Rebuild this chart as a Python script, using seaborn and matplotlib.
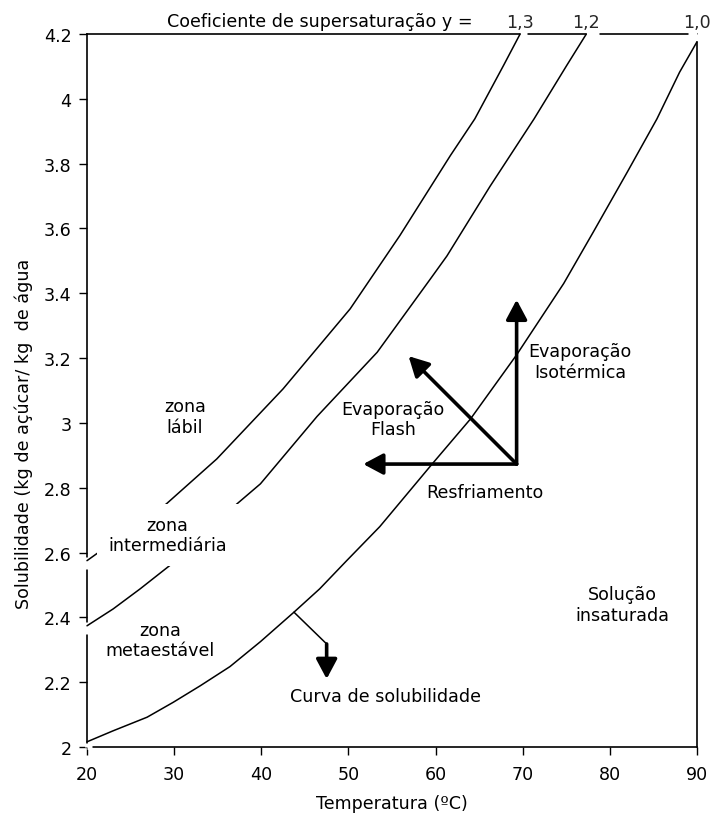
import numpy as np
import pandas as pd
import seaborn as sns
import matplotlib.pyplot as plt

# Solubility curve (y = 1,0) and supersaturation curves (y = 1,2 and y = 1,3)
temp_10 = [20, 23.0, 26.9, 29.9, 33.0, 36.4, 39.9, 43.75, 46.7, 49.8, 53.6, 59.6,
           64.0, 69.3, 74.7, 78.1, 82.0, 85.4, 88.0, 90.0]
sol_10 = [2.016, 2.050, 2.092, 2.138, 2.189, 2.248, 2.325, 2.416, 2.488, 2.575, 2.680,
          2.873, 3.012, 3.210, 3.430, 3.589, 3.774, 3.938, 4.082, 4.176]

temp_12 = [20, 23.0, 26.1, 29.5, 37.2, 39.9, 46.4, 53.3, 59.4, 61.3, 66.25, 71.3, 75.05, 77.3]
sol_12 = [2.374, 2.426, 2.488, 2.560, 2.750, 2.812, 3.020, 3.218, 3.444, 3.515, 3.730,
          3.938, 4.103, 4.200]

temp_13 = [20, 21.3, 29.1, 34.9, 42.5, 50.2, 55.9, 61.7, 64.5, 67.8, 69.7]
sol_13 = [2.575, 2.600, 2.750, 2.889, 3.105, 3.352, 3.578, 3.825, 3.938, 4.103, 4.200]

curve_labels = ["1,0", "1,2", "1,3"]

# Process arrows: starting state and the end of each path
arrow_origin = (69.3, 2.873)
arrow_cooling = (51.7, 2.873)
arrow_isothermal = (69.3, 3.38)
arrow_flash = (56.9, 3.206)

# Pointer to the solubility curve
pointer_temp = [43.75, 47.5]
pointer_sol = [2.416, 2.318]
pointer_tip = 2.21

x_ticks = [20, 30, 40, 50, 60, 70, 80, 90]
y_ticks = [2.0, 2.2, 2.4, 2.6, 2.8, 3.0, 3.2, 3.4, 3.6, 3.8, 4.0, 4.2]
y_ticklabels = ["2", "2.2", "2.4", "2.6", "2.8", "3", "3.2", "3.4", "3.6", "3.8", "4", "4.2"]

sns.set_theme(style="ticks")
plt.rcParams["font.family"] = ["DejaVu Sans"]
FS = 12.6

fig = plt.figure(figsize=(7.14, 8.2), dpi=100)
ax = fig.add_axes([87 / 714, 72 / 820, 610 / 714, 713 / 820])

curves = pd.concat([
    pd.DataFrame({"T": temp_10, "S": sol_10, "y": "1,0"}),
    pd.DataFrame({"T": temp_12, "S": sol_12, "y": "1,2"}),
    pd.DataFrame({"T": temp_13, "S": sol_13, "y": "1,3"}),
])
for name, grp in curves.groupby("y"):
    sns.lineplot(data=grp, x="T", y="S", ax=ax, color="black", lw=1.1,
                 sort=False, estimator=None, zorder=4, legend=False)
for line in ax.lines:
    line.set_clip_on(False)

ax.set_xlim(20, 90)
ax.set_ylim(2.0, 4.2)
ax.set_xticks(x_ticks)
ax.set_yticks(y_ticks)
ax.set_yticklabels(y_ticklabels)
ax.tick_params(axis="both", labelsize=FS, length=6, width=1, color="black",
               labelcolor="black", direction="out")
ax.tick_params(axis="y", pad=5)
ax.tick_params(axis="x", pad=7)
for side in ["left", "right", "top", "bottom"]:
    ax.spines[side].set_visible(True)
    ax.spines[side].set_color("black")
    ax.spines[side].set_linewidth(1.2)

ax.set_xlabel("Temperatura (ºC)", fontsize=FS, color="black", labelpad=8)
ax.set_ylabel("Solubilidade (kg de açúcar/ kg  de água", fontsize=FS, color="black")
ax.yaxis.set_label_coords(-0.088, 0.44)

# breaks in the frame where the curves meet it
white = dict(color="white", lw=3.5, clip_on=False, zorder=3, solid_capstyle="butt")
for s0 in (sol_12[0], sol_13[0]):
    ax.plot([20, 20], [s0 - 0.025, s0 + 0.012], **white)
ax.plot([20, 20], [2.0, 2.012], **white)
ax.plot([20, 20.55], [2.0, 2.0], **white)
ax.plot([temp_13[-1], temp_13[-1] + 0.8], [4.2, 4.2], **white)
ax.plot([temp_12[-1], temp_12[-1] + 1.5], [4.2, 4.2], **white)
ax.plot([89.0, 90.0], [4.2, 4.2], **white)
ax.plot([90, 90], [4.178, 4.2], **white)

# supersaturation coefficient labels along the top
fig.text(320 / 714, 1 - 27 / 820, "Coeficiente de supersaturação y =", fontsize=FS,
         ha="center", va="baseline", color="black")
for lab, tend in zip(curve_labels, [temp_10[-1], temp_12[-1], temp_13[-1]]):
    ax.annotate(lab, xy=(tend, 4.2), xytext=(0, 5), textcoords="offset points",
                ha="center", va="baseline", fontsize=FS, annotation_clip=False)

# zone labels
txt = dict(fontsize=FS, ha="center", va="center", color="black")
ax.text(31.25, 3.02, "zona\nlábil", **txt)
ax.text(29.24, 2.654, "zona\nintermediária", zorder=5,
        bbox=dict(boxstyle="square,pad=0.65", fc="white", ec="none"), **txt)
ax.text(28.4, 2.33, "zona\nmetaestável", **txt)
ax.text(81.4, 2.44, "Solução\ninsaturada", **txt)
ax.text(55.1, 3.012, "Evaporação\nFlash", **txt)
ax.text(76.6, 3.19, "Evaporação\nIsotérmica", **txt)
ax.text(65.7, 2.787, "Resfriamento", **txt)
ax.text(54.3, 2.157, "Curva de solubilidade", **txt)

# process arrows
arrow = dict(arrowstyle="-|>,head_length=0.6,head_width=0.32", lw=2.6, color="black",
             shrinkA=0, shrinkB=0, mutation_scale=20)
for tip in (arrow_cooling, arrow_isothermal, arrow_flash):
    ax.annotate("", xy=tip, xytext=arrow_origin, arrowprops=arrow, zorder=6)

ax.plot(pointer_temp, pointer_sol, color="black", lw=1.1, zorder=5)
ax.annotate("", xy=(pointer_temp[-1], pointer_tip),
            xytext=(pointer_temp[-1], pointer_sol[-1]), arrowprops=arrow, zorder=6)

fig.savefig("out.png", dpi=100, facecolor="white")
